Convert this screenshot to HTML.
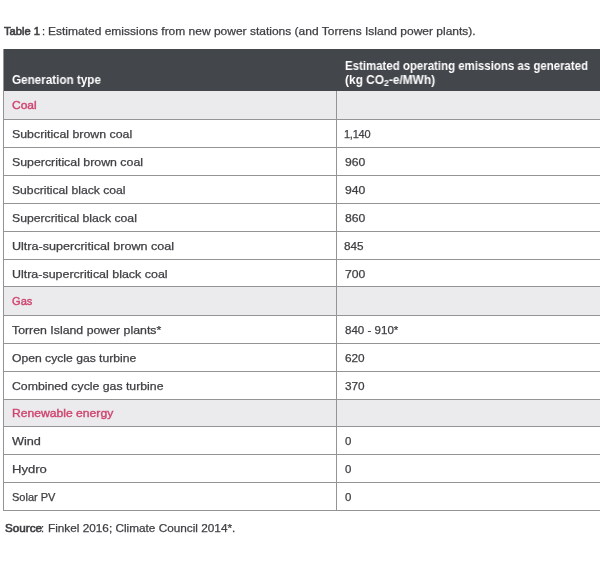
<!DOCTYPE html>
<html><head><meta charset="utf-8">
<style>
html,body{margin:0;padding:0;background:#fff;width:600px;height:561px;overflow:hidden;}
body{font-family:"Liberation Sans",sans-serif;color:#3f3f43;position:relative;}
.t{position:absolute;white-space:nowrap;font-size:11px;-webkit-text-stroke:0.25px #3f3f43;line-height:13px;transform-origin:0 0;will-change:transform;}
.h{position:absolute;white-space:nowrap;font-size:12px;line-height:14px;font-weight:bold;color:#fff;transform-origin:0 0;will-change:transform;}
.bx{position:absolute;}
</style></head><body>
<div class="t" id="capA" style="left:4.45px;top:25px;transform:scaleX(1.0141);-webkit-text-stroke:0.6px #3f3f43;">Table 1</div>
<div class="t" id="xcapB" style="left:41.5px;top:25px;transform:scaleX(1.0000);">:</div>
<div class="t" id="capC" style="left:47.62px;top:25px;transform:scaleX(1.0902);">Estimated emissions from new power stations (and Torrens Island power plants).</div>
<div class="bx" style="left:4px;top:49px;width:596px;height:42px;background:#43464b"></div>
<div class="bx" style="left:3px;top:49px;width:1px;height:462px;background:#949496"></div>
<div class="bx" style="left:4px;top:91px;width:596px;height:28px;background:#ebebee"></div>
<div class="bx" style="left:4px;top:119px;width:596px;height:1px;background:#949496"></div>
<div class="t" id="r0a" style="left:11.7px;top:99px;transform:scaleX(1.0919);color:#cf4670;-webkit-text-stroke:0.4px #cf4670;">Coal</div>
<div class="bx" style="left:4px;top:147px;width:596px;height:1px;background:#949496"></div>
<div class="t" id="r1a" style="left:12.0px;top:128px;transform:scaleX(1.1235);">Subcritical brown coal</div>
<div class="t" id="r1b" style="left:344.38px;top:128px;transform:scaleX(1.0000);letter-spacing:-0.25px;">1,140</div>
<div class="bx" style="left:4px;top:175px;width:596px;height:1px;background:#949496"></div>
<div class="t" id="r2a" style="left:12.0px;top:156px;transform:scaleX(1.1219);">Supercritical brown coal</div>
<div class="t" id="r2b" style="left:344.72px;top:156px;transform:scaleX(1.1080);">960</div>
<div class="bx" style="left:4px;top:203px;width:596px;height:1px;background:#949496"></div>
<div class="t" id="r3a" style="left:12.0px;top:184px;transform:scaleX(1.1050);">Subcritical black coal</div>
<div class="t" id="r3b" style="left:344.72px;top:184px;transform:scaleX(1.1080);">940</div>
<div class="bx" style="left:4px;top:231px;width:596px;height:1px;background:#949496"></div>
<div class="t" id="r4a" style="left:12.0px;top:212px;transform:scaleX(1.1099);">Supercritical black coal</div>
<div class="t" id="r4b" style="left:344.72px;top:212px;transform:scaleX(1.1080);">860</div>
<div class="bx" style="left:4px;top:259px;width:596px;height:1px;background:#949496"></div>
<div class="t" id="r5a" style="left:12.0px;top:240px;transform:scaleX(1.1423);">Ultra-supercritical brown coal</div>
<div class="t" id="r5b" style="left:344.25px;top:240px;transform:scaleX(1.0668);">845</div>
<div class="bx" style="left:4px;top:286px;width:596px;height:1px;background:#949496"></div>
<div class="t" id="r6a" style="left:12.0px;top:268px;transform:scaleX(1.1311);">Ultra-supercritical black coal</div>
<div class="t" id="r6b" style="left:344.72px;top:268px;transform:scaleX(1.1080);">700</div>
<div class="bx" style="left:4px;top:287px;width:596px;height:28px;background:#ebebee"></div>
<div class="bx" style="left:4px;top:315px;width:596px;height:1px;background:#949496"></div>
<div class="t" id="r7a" style="left:11.56px;top:295px;transform:scaleX(1.0099);color:#cf4670;-webkit-text-stroke:0.4px #cf4670;">Gas</div>
<div class="bx" style="left:4px;top:343px;width:596px;height:1px;background:#949496"></div>
<div class="t" id="r8a" style="left:12.0px;top:324px;transform:scaleX(1.1198);">Torren Island power plants*</div>
<div class="t" id="r8b" style="left:344.69px;top:324px;transform:scaleX(1.0506);">840 - 910*</div>
<div class="bx" style="left:4px;top:371px;width:596px;height:1px;background:#949496"></div>
<div class="t" id="r9a" style="left:12.0px;top:352px;transform:scaleX(1.1045);">Open cycle gas turbine</div>
<div class="t" id="r9b" style="left:344.7px;top:352px;transform:scaleX(1.0723);">620</div>
<div class="bx" style="left:4px;top:399px;width:596px;height:1px;background:#949496"></div>
<div class="t" id="r10a" style="left:12.0px;top:380px;transform:scaleX(1.1159);">Combined cycle gas turbine</div>
<div class="t" id="r10b" style="left:344.7px;top:380px;transform:scaleX(1.0723);">370</div>
<div class="bx" style="left:4px;top:400px;width:596px;height:26px;background:#ebebee"></div>
<div class="bx" style="left:4px;top:426px;width:596px;height:1px;background:#949496"></div>
<div class="t" id="r11a" style="left:12.0px;top:407px;transform:scaleX(1.1034);color:#cf4670;-webkit-text-stroke:0.4px #cf4670;">Renewable energy</div>
<div class="bx" style="left:4px;top:454px;width:596px;height:1px;background:#949496"></div>
<div class="t" id="r12a" style="left:12.15px;top:435px;transform:scaleX(1.1539);">Wind</div>
<div class="t" id="r12b" style="left:344.77px;top:435px;transform:scaleX(1.0401);">0</div>
<div class="bx" style="left:4px;top:482px;width:596px;height:1px;background:#949496"></div>
<div class="t" id="r13a" style="left:11.6px;top:463px;transform:scaleX(1.1887);">Hydro</div>
<div class="t" id="r13b" style="left:344.77px;top:463px;transform:scaleX(1.0401);">0</div>
<div class="bx" style="left:4px;top:510px;width:596px;height:1px;background:#949496"></div>
<div class="t" id="r14a" style="left:12.0px;top:491px;transform:scaleX(1.0000);">Solar PV</div>
<div class="t" id="r14b" style="left:344.77px;top:491px;transform:scaleX(1.0401);">0</div>
<div class="bx" style="left:336px;top:91px;width:1px;height:419px;background:#949496"></div>
<div class="h" id="gentype" style="left:12.15px;top:73px;transform:scaleX(0.9727);">Generation type</div>
<div class="h" id="est1" style="left:345.25px;top:59px;transform:scaleX(0.9540);">Estimated operating emissions as generated</div>
<div class="h" id="est2" style="left:345.25px;top:73px;transform:scaleX(0.9904);">(kg CO<span style="font-size:9px;position:relative;top:2px">2</span>-e/MWh)</div>
<div class="t" id="srcA" style="left:4.52px;top:522px;transform:scaleX(1.0636);-webkit-text-stroke:0.6px #3f3f43;">Source</div>
<div class="t" id="xsrcB" style="left:41.3px;top:522px;transform:scaleX(1.0000);">:</div>
<div class="t" id="srcC" style="left:48.0px;top:522px;transform:scaleX(1.0710);">Finkel 2016; Climate Council 2014*.</div>
</body></html>
